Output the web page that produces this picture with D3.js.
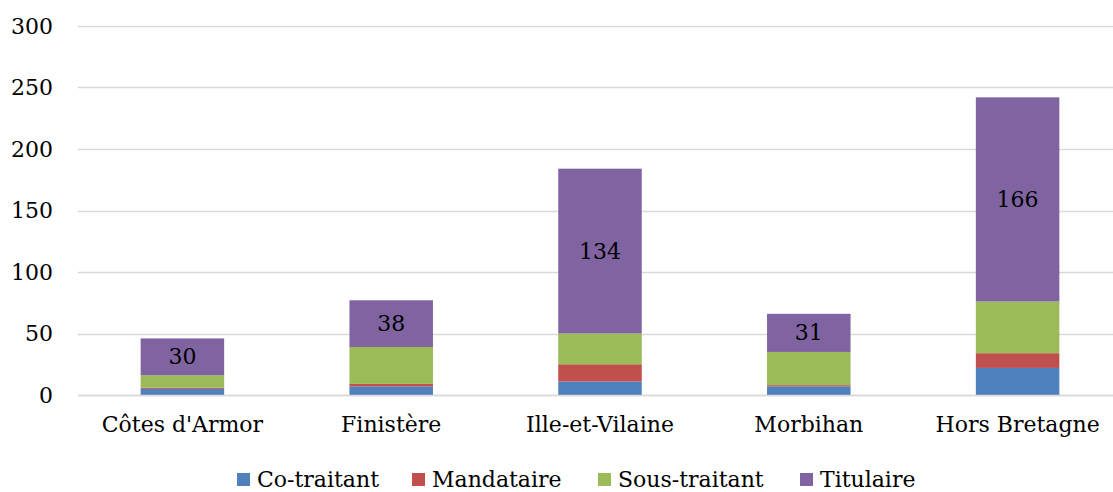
<!DOCTYPE html>
<html>
<head>
<meta charset="utf-8">
<script src="https://cdn.jsdelivr.net/npm/d3@7"></script>
<style>
  body { margin: 0; background: #fff; }
  svg text { font-family: "DejaVu Serif", serif; fill: #000; }
</style>
</head>
<body>
<div id="chart"></div>
<script>
// categories and series
const categories = ["Côtes d'Armor", "Finistère", "Ille-et-Vilaine", "Morbihan", "Hors Bretagne"];
const seriesNames = ["Co-traitant", "Mandataire", "Sous-traitant", "Titulaire"];
const coTraitant = [5, 7, 11, 7, 22];
const mandataire = [1, 2, 14, 1, 12];
const sousTraitant = [10, 30, 25, 27, 42];
const titulaire = [30, 38, 134, 31, 166];
const yTicks = [0, 50, 100, 150, 200, 250, 300];
const colors = ["#4F81BD", "#C0504D", "#9BBB59", "#8064A2"];

const width = 1113, height = 492;
const margin = { top: 26, left: 78, right: -9, bottom: 97 };
const fontSize = "22px";

const rows = categories.map((c, i) => ({
  cat: c,
  "Co-traitant": coTraitant[i],
  "Mandataire": mandataire[i],
  "Sous-traitant": sousTraitant[i],
  "Titulaire": titulaire[i]
}));

const svg = d3.select("#chart").append("svg")
  .attr("width", width)
  .attr("height", height);

const x = d3.scaleBand()
  .domain(categories)
  .range([margin.left, width - margin.right])
  .paddingInner(0.6)
  .paddingOuter(0.3);

const y = d3.scaleLinear()
  .domain([0, 300])
  .range([height - margin.bottom, margin.top]);

// gridlines
svg.append("g")
  .selectAll("line")
  .data(yTicks)
  .join("line")
  .attr("x1", margin.left)
  .attr("x2", width)
  .attr("y1", d => Math.round(y(d)) + 0.5)
  .attr("y2", d => Math.round(y(d)) + 0.5)
  .attr("stroke", "#d9d9d9")
  .attr("stroke-width", 1.5);

// y axis labels
const yAxis = d3.axisLeft(y).tickValues(yTicks).tickSize(0).tickPadding(12);
svg.append("g")
  .attr("transform", `translate(${margin.left - 13},0)`)
  .call(yAxis)
  .call(g => g.select(".domain").remove())
  .selectAll("text")
  .style("font-size", fontSize)
  .attr("fill", "#000");

// stacked bars
const stack = d3.stack().keys(seriesNames);
const layers = stack(rows);

svg.append("g")
  .selectAll("g")
  .data(layers)
  .join("g")
  .attr("fill", (d, i) => colors[i])
  .selectAll("rect")
  .data(d => d)
  .join("rect")
  .attr("x", d => x(d.data.cat))
  .attr("width", x.bandwidth())
  .attr("y", d => y(d[1]))
  .attr("height", d => y(d[0]) - y(d[1]));

// labels on Titulaire segments
const tit = layers[3];
svg.append("g")
  .selectAll("text")
  .data(tit)
  .join("text")
  .attr("x", d => x(d.data.cat) + x.bandwidth() / 2)
  .attr("y", d => (y(d[0]) + y(d[1])) / 2)
  .attr("text-anchor", "middle")
  .attr("dominant-baseline", "central")
  .style("font-size", fontSize)
  .text(d => d.data["Titulaire"]);

// x axis line and labels
svg.append("line")
  .attr("x1", margin.left).attr("x2", width)
  .attr("y1", Math.round(y(0)) + 0.5).attr("y2", Math.round(y(0)) + 0.5)
  .attr("stroke", "#d9d9d9").attr("stroke-width", 1.5);

const xAxis = d3.axisBottom(x).tickSize(0).tickPadding(21);
svg.append("g")
  .attr("transform", `translate(0,${y(0)})`)
  .call(xAxis)
  .call(g => g.select(".domain").remove())
  .selectAll("text")
  .style("font-size", fontSize)
  .attr("fill", "#000");

// legend
const legendX = [237, 412, 598, 800];
const legend = svg.append("g");
const item = legend.selectAll("g")
  .data(seriesNames)
  .join("g")
  .attr("transform", (d, i) => `translate(${legendX[i]},473)`);
item.append("rect")
  .attr("width", 13).attr("height", 13)
  .attr("fill", (d, i) => colors[i]);
item.append("text")
  .attr("x", 20).attr("y", 6)
  .attr("dominant-baseline", "central")
  .style("font-size", fontSize)
  .text(d => d);
</script>
</body>
</html>
